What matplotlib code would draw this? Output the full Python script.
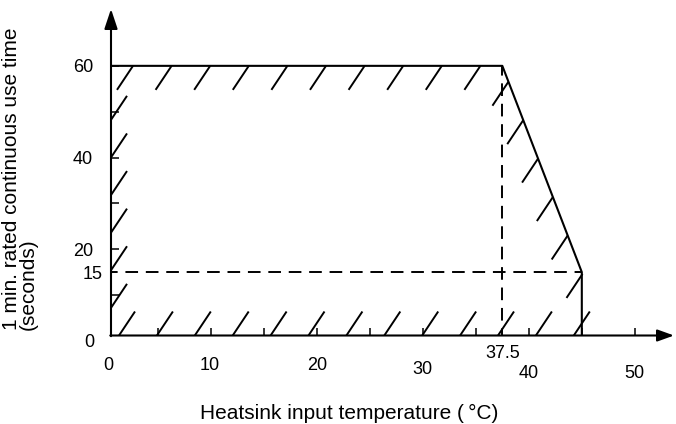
import numpy as np
import matplotlib
matplotlib.use("Agg")
import matplotlib.pyplot as plt

plt.rcParams['font.family'] = ['Liberation Sans', 'DejaVu Sans']

# operating limit boundary (temperature degC, time s)
boundary_temp = [0, 37.5, 45, 45]
boundary_time = [60, 60, 15, 0]
knee_temp = 37.5
min_time = 15
max_time = 60
cutoff_temp = 45

x_tick_vals = [0, 10, 20, 30, 37.5, 40, 50]
x_tick_labels = ['0', '10', '20', '30', '37.5', '40', '50']
y_tick_vals = [0, 15, 20, 40, 60]
y_tick_labels = ['0', '15', '20', '40', '60']

# label placement tweaks (pixels), the original drawing is a bit uneven
x_lab_dx = [3, -1, 0, 0, 0, 0, 0]
x_lab_dy = [27.5, 27.5, 27.5, 31.5, 16.5, 36.5, 36.5]
y_lab_dx = [17, 8, 18, 18, 18]

W, H = 676, 424
fig = plt.figure(figsize=(W / 100, H / 100), dpi=100)
ax = fig.add_axes([111 / W, (H - 335.5) / H, 563 / W, (335.5 - 9) / H])

# axes cross slightly off the origin in the original
x_lo, x_hi = 0.57, 53.7
y_lo, y_hi = 1.18, 72.4
ax.set_xlim(x_lo, x_hi)
ax.set_ylim(y_lo, y_hi)
for s in ax.spines.values():
    s.set_visible(False)

# axis lines with arrow heads
ax.annotate('', xy=(x_lo, y_hi), xytext=(x_lo, y_lo - 0.15),
            arrowprops=dict(arrowstyle='-|>,head_length=1.2,head_width=0.4',
                            lw=1.5, color='k', shrinkA=0, shrinkB=0, mutation_scale=10),
            annotation_clip=False)
ax.annotate('', xy=(x_hi, y_lo), xytext=(x_lo - 0.07, y_lo),
            arrowprops=dict(arrowstyle='-|>,head_length=1.0,head_width=0.36',
                            lw=1.5, color='k', shrinkA=0, shrinkB=0, mutation_scale=10),
            annotation_clip=False)

ax.set_xticks(np.arange(5, 51, 5))
ax.set_yticks(np.arange(10, 61, 10))
ax.tick_params(direction='in', length=6, width=1.1, labelbottom=False, labelleft=False)

# boundary and dashed guides
ax.plot(boundary_temp, boundary_time, color='k', lw=1.5)
ax.plot([0, cutoff_temp], [min_time, min_time], color='k', lw=1.4, ls=(0, (6.5, 4)))
ax.plot([knee_temp, knee_temp], [0, max_time], color='k', lw=1.4, ls=(0, (6.5, 4)))


def hatch_edge(p0, p1, start, step, hang):
    d0 = ax.transData.transform(p0)
    d1 = ax.transData.transform(p1)
    vec = d1 - d0
    length = np.hypot(*vec)
    u = vec / length
    stroke = np.array([16.0, 24.0])
    for s in np.arange(start, length + 4, step):
        a = d0 + u * s
        seg = np.array([a - stroke, a]) if hang else np.array([a, a + stroke])
        pts = ax.transData.inverted().transform(seg)
        ax.plot(pts[:, 0], pts[:, 1], color='k', lw=1.4, clip_on=False,
                solid_capstyle='butt')


# short hatch strokes along the inside of the boundary
hatch_edge((x_lo, max_time), (knee_temp, max_time), 22, 38.6, True)
hatch_edge((knee_temp, max_time), (cutoff_temp, min_time), 17, 41.2, True)
hatch_edge((x_lo, max_time), (x_lo, y_lo), 54, 37.6, False)
hatch_edge((x_lo, y_lo), (cutoff_temp, y_lo), 8, 37.9, False)

for v, lab, dx, dy in zip(x_tick_vals, x_tick_labels, x_lab_dx, x_lab_dy):
    ax.annotate(lab, xy=(v, y_lo), xytext=(dx, -dy), textcoords='offset pixels',
                ha='center', va='center_baseline', fontsize=13, annotation_clip=False)

for v, lab, dx in zip(y_tick_vals, y_tick_labels, y_lab_dx):
    ax.annotate(lab, xy=(x_lo, v), xytext=(-dx, 0), textcoords='offset pixels',
                ha='right', va='center_baseline', fontsize=13, annotation_clip=False)

fig.text(349 / W, (H - 413) / H, 'Heatsink input temperature (\u2009°C)',
         ha='center', va='center', fontsize=15)
fig.text(20 / W, (H - 330) / H, '1 min. rated continuous use time\n(seconds)',
         rotation=90, ha='center', va='bottom', multialignment='left',
         fontsize=15, linespacing=0.9)

fig.savefig('out.png', dpi=100)
